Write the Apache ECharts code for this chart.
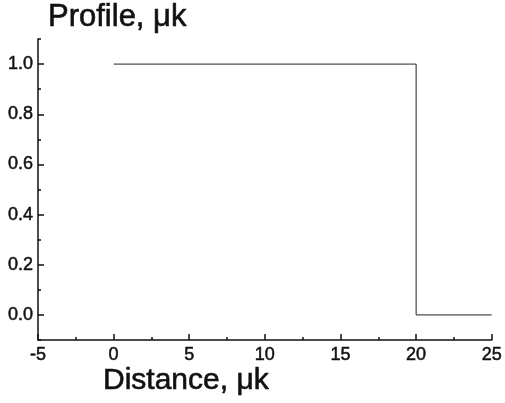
<!DOCTYPE html>
<html>
<head>
<meta charset="utf-8">
<script src="https://cdn.jsdelivr.net/npm/echarts@6/dist/echarts.min.js"></script>
<style>
  html, body { margin: 0; padding: 0; background: #fff; }
  #chart { width: 505px; height: 403px; }
</style>
</head>
<body>
<div id="chart"></div>
<script>
// Step profile along distance
const distance = [0, 20, 20, 25];
const profile = [1.0, 1.0, 0.0, 0.0];

// Axis ticks
const yMajorTicks = [0.0, 0.2, 0.4, 0.6, 0.8, 1.0];
const yMinorTicks = [-0.1, 0.1, 0.3, 0.5, 0.7, 0.9, 1.1];
const xTickLabels = ['-5', '0', '5', '10', '15', '20', '25'];

const titleText = 'Profile, \u03bck';
const xTitleText = 'Distance, \u03bck';

const font = 'Arial, "Liberation Sans", sans-serif';
const ink = '#111';

const chart = echarts.init(document.getElementById('chart'), null, { renderer: 'canvas' });

chart.setOption({
  backgroundColor: '#fff',
  animation: false,
  title: [
    {
      text: titleText,
      left: 43, top: -3,
      textStyle: { fontFamily: font, fontSize: 31, fontWeight: 'normal', color: ink, textBorderColor: ink, textBorderWidth: 0.6 }
    },
    {
      text: xTitleText,
      left: 98, top: 361,
      textStyle: { fontFamily: font, fontSize: 30, fontWeight: 'normal', color: ink, textBorderColor: ink, textBorderWidth: 0.6 }
    }
  ],
  grid: { left: 38, right: 12, top: 39, bottom: 63, containLabel: false },
  xAxis: {
    type: 'value',
    min: -5, max: 25, interval: 5,
    axisLine: { show: true, onZero: false, lineStyle: { color: ink, width: 1.5 } },
    axisTick: { show: true, inside: true, length: 6, lineStyle: { color: ink, width: 1.5 } },
    minorTick: { show: true, splitNumber: 2, length: 3, lineStyle: { color: ink, width: 1.5 } },
    splitLine: { show: false },
    minorSplitLine: { show: false },
    axisLabel: {
      margin: 6,
      fontFamily: font, fontSize: 18, color: ink, textBorderColor: ink, textBorderWidth: 0.5,
      formatter: function (v) {
        const s = String(Math.round(v));
        return xTickLabels.indexOf(s) >= 0 ? s : '';
      }
    }
  },
  yAxis: [
    {
      type: 'value',
      min: -0.1, max: 1.1,
      axisLine: { show: true, onZero: false, lineStyle: { color: ink, width: 1.5 } },
      axisTick: { show: true, inside: true, length: 6, customValues: yMajorTicks, lineStyle: { color: ink, width: 1.5 } },
      axisLabel: {
        margin: 5,
        fontFamily: font, fontSize: 18, color: ink, textBorderColor: ink, textBorderWidth: 0.5,
        customValues: yMajorTicks,
        formatter: function (v) { return v.toFixed(1); }
      },
      splitLine: { show: false }
    },
    {
      type: 'value',
      position: 'left',
      min: -0.1, max: 1.1,
      axisLine: { show: false, onZero: false },
      axisTick: { show: true, inside: true, length: 3, customValues: yMinorTicks, lineStyle: { color: ink, width: 1.5 } },
      axisLabel: { show: false, customValues: yMinorTicks },
      splitLine: { show: false }
    }
  ],
  series: [
    {
      type: 'line',
      yAxisIndex: 0,
      data: distance.map(function (d, i) { return [d, profile[i]]; }),
      showSymbol: false,
      symbol: 'none',
      lineStyle: { color: '#222', width: 1 }
    }
  ]
});
</script>
</body>
</html>
